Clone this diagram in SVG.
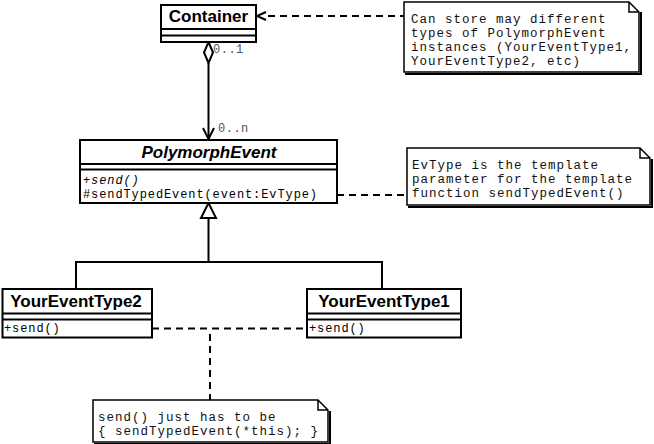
<svg xmlns="http://www.w3.org/2000/svg" width="654" height="444" viewBox="0 0 654 444">
<style>
.box{fill:#fff;stroke:#000;stroke-width:2}
.sep{stroke:#000;stroke-width:2}
.title{font-family:"Liberation Sans",Arial,sans-serif;font-weight:bold;font-size:17px;fill:#000;text-anchor:middle}
.mono{font-family:"Liberation Mono","Courier New",monospace;font-size:12px;letter-spacing:0.9px;fill:#000}
.note{font-family:"Liberation Mono","Courier New",monospace;font-size:12.5px;letter-spacing:1px;fill:#111}
.mult{font-family:"Liberation Mono","Courier New",monospace;font-size:12px;letter-spacing:0.5px;fill:#555}
.line{fill:none;stroke:#000;stroke-width:2}
.dash{fill:none;stroke:#000;stroke-width:2;stroke-dasharray:7,5}
.nbox{fill:#fff;stroke:#000;stroke-width:1.5}
.shadow{fill:none;stroke:#000;stroke-width:2}
</style>
<rect width="654" height="444" fill="#fff"/>
<g id="connectors">
  <path class="dash" d="M268,16 H404"/>
  <path class="line" d="M266,12 L257,16 L266,20"/>
  <path class="line" d="M208.5,63 V139"/>
  <path fill="#fff" stroke="#000" stroke-width="2" d="M208.5,42 L213,52.5 L208.5,63 L204,52.5 Z"/>
  <path class="line" d="M203,128 L208.5,139 L214,128"/>
  <path class="dash" d="M337,195 H407"/>
  <path class="line" d="M208.5,218 V262 M76,289 V262 H382 V289"/>
  <path fill="#fff" stroke="#000" stroke-width="2" d="M208.5,203 L216,218 L201,218 Z"/>
  <path class="dash" d="M152,328.5 H307"/>
  <path class="dash" d="M210,334 V400"/>
  <text class="mult" x="213" y="53">0..1</text>
  <text class="mult" x="218" y="132">0..n</text>
</g>
<g id="Container">
  <rect class="box" x="161" y="5" width="95" height="37"/>
  <path class="sep" d="M161,29 H256 M161,35.5 H256"/>
  <text class="title" x="208.5" y="22">Container</text>
</g>
<g id="PolymorphEvent">
  <rect class="box" x="80" y="140" width="257" height="63"/>
  <path class="sep" d="M80,164 H337 M80,169.5 H337"/>
  <text class="title" x="209" y="158" font-style="italic">PolymorphEvent</text>
  <text class="mono" x="83" y="184" font-style="italic">+send()</text>
  <text class="mono" x="83" y="198">#sendTypedEvent(event:EvType)</text>
</g>
<g id="YourEventType2">
  <rect class="box" x="2.5" y="289" width="149.5" height="48.5"/>
  <path class="sep" d="M2.5,313.5 H152 M2.5,319.5 H152"/>
  <text class="title" x="76" y="307">YourEventType2</text>
  <text class="mono" x="4" y="332">+send()</text>
</g>
<g id="YourEventType1">
  <rect class="box" x="307" y="289" width="154" height="48.5"/>
  <path class="sep" d="M307,313.5 H461 M307,319.5 H461"/>
  <text class="title" x="384" y="307">YourEventType1</text>
  <text class="mono" x="309" y="332">+send()</text>
</g>
<g id="note1">
  <path class="shadow" d="M641,12 V74 H405"/>
  <path class="nbox" d="M404,2 H629 L639,12 V72 H404 Z M629,2 V12 H639"/>
  <text class="note" x="411" y="23">Can store may different</text>
  <text class="note" x="411" y="37">types of PolymorphEvent</text>
  <text class="note" x="411" y="51">instances (YourEventType1,</text>
  <text class="note" x="411" y="65">YourEventType2, etc)</text>
</g>
<g id="note2">
  <path class="shadow" d="M652,159 V207 H408"/>
  <path class="nbox" d="M407,148 H640 L650,158 V205 H407 Z M640,148 V158 H650"/>
  <text class="note" x="412" y="169">EvType is the template</text>
  <text class="note" x="412" y="183">parameter for the template</text>
  <text class="note" x="412" y="197">function sendTypedEvent()</text>
</g>
<g id="note3">
  <path class="shadow" d="M330,411 V444 H94"/>
  <path class="nbox" d="M93,400 H318 L328,410 V442 H93 Z M318,400 V410 H328"/>
  <text class="note" x="98" y="421">send() just has to be</text>
  <text class="note" x="98" y="435">{ sendTypedEvent(*this); }</text>
</g>
</svg>
